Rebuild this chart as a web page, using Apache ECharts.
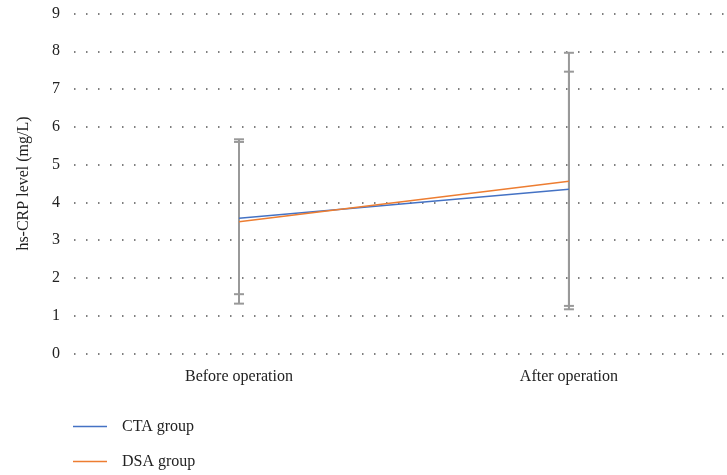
<!DOCTYPE html>
<html>
<head>
<meta charset="utf-8">
<script src="https://cdn.jsdelivr.net/npm/echarts@6/dist/echarts.min.js"></script>
<style>
  html, body { margin: 0; padding: 0; background: #fff; }
  #chart { width: 727px; height: 475px; }
</style>
</head>
<body>
<div id="chart"></div>
<script>
  const categories = ['Before operation', 'After operation']
  const ctaMean = [3.58, 4.35]
  const ctaLow = [1.57, 1.26]
  const ctaHigh = [5.6, 7.46]
  const dsaMean = [3.49, 4.56]
  const dsaLow = [1.32, 1.17]
  const dsaHigh = [5.67, 7.96]

  const serif = '"Liberation Serif", "DejaVu Serif", serif'

  // x positions are category indexes on a value axis (plot is cut at the right edge)
  const xIdx = categories.map((c, i) => i)
  const ctaData = xIdx.map(i => [i, ctaMean[i]])
  const dsaData = xIdx.map(i => [i, dsaMean[i]])
  // error bar data: [category index, low, high]
  const barData = []
  xIdx.forEach(i => {
    barData.push([i, ctaLow[i], ctaHigh[i]])
    barData.push([i, dsaLow[i], dsaHigh[i]])
  })

  const chart = echarts.init(document.getElementById('chart'))
  const option = {
    animation: false,
    grid: { left: 74, right: 0, top: 13.5, bottom: 121.5, containLabel: false },
    legend: {
      orient: 'vertical',
      left: 73,
      top: 418,
      padding: 0,
      icon: 'rect',
      itemWidth: 34,
      itemHeight: 1.3,
      itemGap: 18,
      data: ['CTA group', 'DSA group'],
      textStyle: { fontFamily: serif, fontSize: 16, color: '#222', padding: [0, 0, 0, 10], lineHeight: 17 }
    },
    xAxis: {
      type: 'value',
      min: -0.5,
      max: 1.479,
      axisLine: { show: false },
      axisTick: { show: false },
      splitLine: { show: false },
      axisLabel: {
        customValues: xIdx,
        formatter: v => categories[v],
        fontFamily: serif, fontSize: 16, color: '#222', margin: 15
      }
    },
    yAxis: {
      type: 'value',
      min: 0,
      max: 9,
      interval: 1,
      name: 'hs-CRP level (mg/L)',
      nameLocation: 'middle',
      nameGap: 42,
      nameTextStyle: { fontFamily: serif, fontSize: 16, color: '#222' },
      axisLine: { show: false },
      axisTick: { show: false },
      axisLabel: { fontFamily: serif, fontSize: 16, color: '#222', margin: 14 },
      splitLine: { lineStyle: { color: '#555', width: 1.5, type: [1.5, 10.5] } }
    },
    series: [
      {
        name: 'error',
        type: 'custom',
        z: 1,
        data: barData,
        renderItem: (params, api) => {
          const top = api.coord([api.value(0), api.value(2)])
          const bot = api.coord([api.value(0), api.value(1)])
          const x = top[0]
          const hw = 5
          const style = { stroke: '#999', lineWidth: 2 }
          return {
            type: 'group',
            children: [
              { type: 'line', shape: { x1: x, y1: top[1], x2: x, y2: bot[1] }, style },
              { type: 'line', shape: { x1: x - hw, y1: top[1], x2: x + hw, y2: top[1] }, style },
              { type: 'line', shape: { x1: x - hw, y1: bot[1], x2: x + hw, y2: bot[1] }, style }
            ]
          }
        }
      },
      {
        name: 'CTA group',
        type: 'line',
        z: 3,
        data: ctaData,
        symbol: 'none',
        color: '#4472C4',
        lineStyle: { width: 1.5 }
      },
      {
        name: 'DSA group',
        type: 'line',
        z: 3,
        data: dsaData,
        symbol: 'none',
        color: '#ED7D31',
        lineStyle: { width: 1.5 }
      }
    ]
  }
  chart.setOption(option)
</script>
</body>
</html>
